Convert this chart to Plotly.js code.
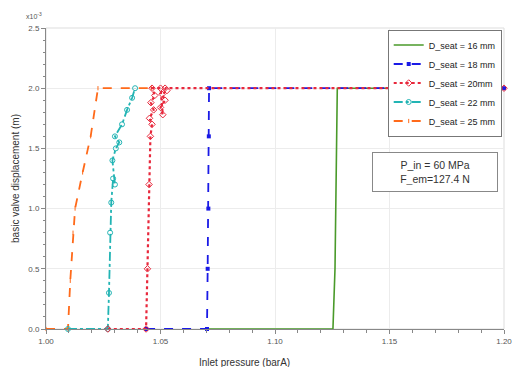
<!DOCTYPE html>
<html><head><meta charset="utf-8">
<script src="https://cdn.plot.ly/plotly-3.0.1.min.js"></script>
<style>html,body{margin:0;padding:0;background:#fff}#c{width:517px;height:367px}</style>
</head><body><div id="c"></div>
<script>
// Displacement in units of 1e-3 m, inlet pressure in barA
const names = ["D_seat = 16 mm","D_seat = 18 mm","D_seat = 20mm","D_seat = 22 mm","D_seat = 25 mm"];
const x16 = [1.0703,1.1253,1.1262,1.1268,1.1272,1.2000];
const y16 = [0,0,0.5,1.5,2.0,2.0];
const x18 = [1.0437,1.0703,1.0706,1.0709,1.0711,1.0712,1.2000];
const y18 = [0,0,0.5,1.0,1.6,2.0,2.0];
const x20 = [1.0270,1.0437,1.0443,1.0450,1.0456,1.0463,1.0452,1.0470,1.0458,1.0475,1.0463,1.0500,1.0510,1.0500,1.0520,1.0507,1.0528,1.0520,1.2000];
const y20 = [0,0,0.5,1.2,1.6,1.7,1.75,1.82,1.88,1.94,2.0,2.0,1.78,1.84,1.9,1.95,1.98,2.0,2.0];
const x22 = [1.0096,1.0270,1.0275,1.0280,1.0285,1.0293,1.0301,1.0290,1.0305,1.0320,1.0301,1.0332,1.0354,1.0376,1.0389];
const y22 = [0,0,0.3,0.8,1.05,1.25,1.2,1.4,1.5,1.55,1.6,1.7,1.82,1.92,2.0];
const x25 = [1.0000,1.0096,1.0106,1.0118,1.0127,1.0160,1.0195,1.0227,1.0460];
const y25 = [0,0,0.4,0.8,1.0,1.3,1.6,2.0,2.0];

const traces = [
  {x:x16,y:y16,name:names[0],mode:"lines",line:{color:"#4a9a2a",width:1.6},legendrank:1},
  {x:x18,y:y18,name:names[1],mode:"lines+markers",line:{color:"#1a1ae6",width:1.8,dash:"dash"},marker:{symbol:"square",size:4,color:"#1a1ae6"},legendrank:2},
  {x:x25,y:y25,name:names[4],mode:"lines+markers",line:{color:"#ff6a1a",width:1.8,dash:"dash"},marker:{symbol:"line-ns-open",size:3,color:"#ff6a1a"},legendrank:5},
  {x:x22,y:y22,name:names[3],mode:"lines+markers",line:{color:"#22b4b4",width:1.8,dash:"dashdot"},marker:{symbol:"circle-open",size:5,color:"#22b4b4"},legendrank:4},
  {x:x20,y:y20,name:names[2],mode:"lines+markers",line:{color:"#e8283c",width:2.2,dash:"dot"},marker:{symbol:"diamond-open",size:5,color:"#e8283c"},legendrank:3}
];
traces.forEach(t=>{t.cliponaxis=false;});

const axisCommon = {
  showline:true, linecolor:"#888", linewidth:1, ticks:"outside", ticklen:4, tickcolor:"#888",
  showgrid:true, gridcolor:"#ececec", zeroline:false,
  tickfont:{family:"Liberation Sans, Arial, sans-serif", size:8, color:"#555"}
};

const layout = {
  width:517, height:367,
  margin:{l:46, r:13, t:28, b:38},
  paper_bgcolor:"#fff", plot_bgcolor:"#fff",
  showlegend:true,
  font:{family:"Liberation Sans, Arial, sans-serif", color:"#333"},
  xaxis:Object.assign({}, axisCommon, {
    range:[1.0,1.2], dtick:0.05, tick0:1.0, tickformat:".2f",
    minor:{dtick:0.01, ticks:"outside", ticklen:2.5, tickcolor:"#888", showgrid:false}
  }),
  yaxis:Object.assign({}, axisCommon, {
    range:[0,2.5], dtick:0.5, tick0:0, tickformat:".1f",
    minor:{dtick:0.1, ticks:"outside", ticklen:2.5, tickcolor:"#888", showgrid:false},
    title:{text:"basic valve displacement (m)", font:{size:10, color:"#333"}, standoff:6}
  }),
  legend:{
    x:0.995, xanchor:"right", y:0.995, yanchor:"top",
    bgcolor:"#fff", bordercolor:"#777", borderwidth:1,
    font:{size:9, color:"#222"}, itemwidth:30, tracegroupgap:0
  },
  shapes:[
    {type:"rect", xref:"paper", yref:"paper", x0:0, x1:1, y0:0, y1:1, line:{color:"#ddd", width:1}, layer:"below"}
  ],
  annotations:[
    {xref:"paper", yref:"paper", x:0.433, y:-0.085, xanchor:"center", yanchor:"top", showarrow:false,
     text:"Inlet pressure (barA)", font:{size:10, color:"#333"}},
    {xref:"paper", yref:"paper", x:-0.005, y:1.0, xanchor:"right", yanchor:"bottom", yshift:6, showarrow:false,
     text:"x10<sup>-3</sup>", font:{size:7, color:"#555"}},
    {xref:"paper", yref:"paper", x:0.85, y:0.52, xanchor:"center", yanchor:"middle", showarrow:false,
     text:"P_in = 60 MPa<br>F_em=127.4 N", align:"center", font:{size:10.5, color:"#333"},
     bordercolor:"#888", borderwidth:1, borderpad:6, bgcolor:"#fff", width:112}
  ]
};
Plotly.newPlot("c", traces, layout, {displayModeBar:false, staticPlot:true});
</script></body></html>
